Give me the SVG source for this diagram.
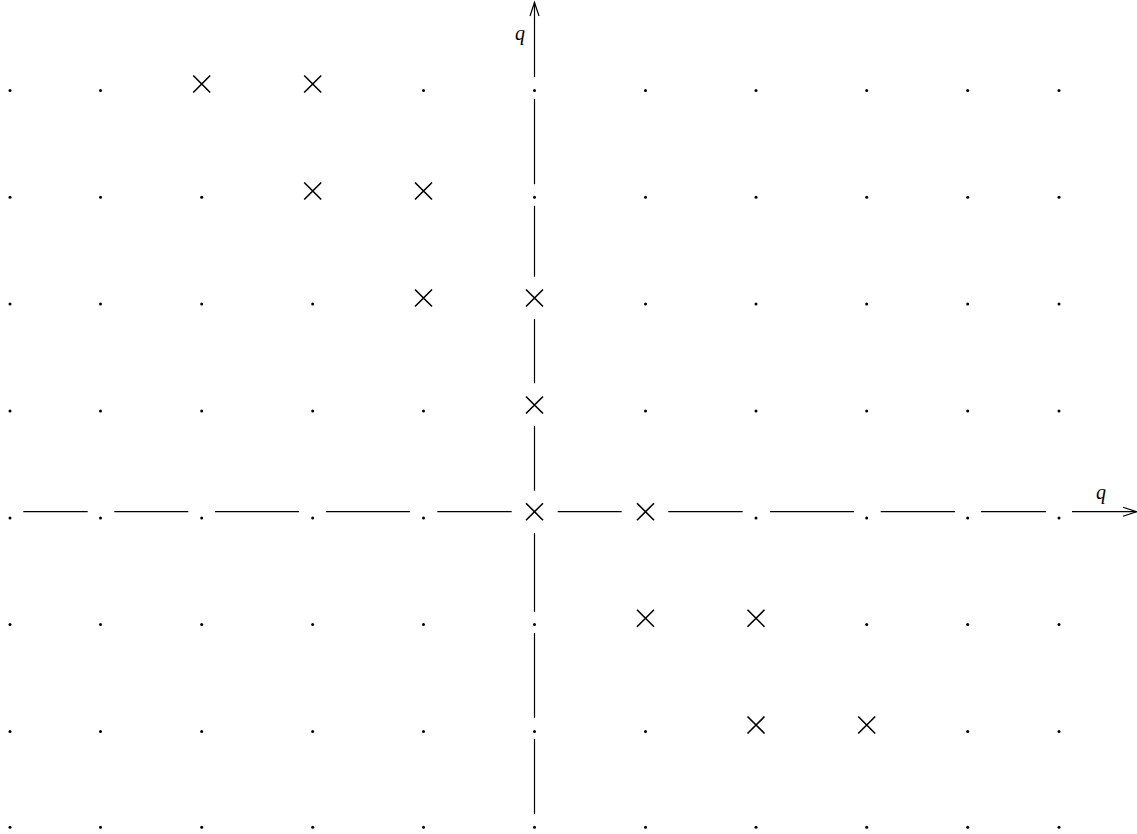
<svg xmlns="http://www.w3.org/2000/svg" width="1137" height="834" viewBox="0 0 1137 834">
<style>
.ax{stroke:#000;stroke-width:1.2;fill:none}
.x{stroke:#000;stroke-width:1.6;fill:none}
.d{fill:#000}
.lbl{font-family:"Liberation Serif",serif;font-style:italic;font-size:20px;fill:#000;text-anchor:middle}
</style>
<defs>
<path id="cr" class="x" d="M-8.5,-8.5L8.5,8.5M-8.5,8.5L8.5,-8.5"/>
<circle id="dt" class="d" r="1.5"/>
</defs>
<rect width="1137" height="834" fill="#fff"/>
<g id="connectors">
<path class="ax" d="M534.5,77V2M534.5,99V184.3M534.5,205.7V276.7M534.5,319V383.3M534.5,426V490.7M534.5,533V611.7M534.5,633V717.7M534.5,739V814"/>
<path class="ax" d="M530,16L534.5,2.5L539,16"/>
<path class="ax" d="M23.3,511.7H87.7M114.3,511.7H188.3M215,511.7H299M326,511.7H410M437.3,511.7H511.7M557.7,511.7H621.7M668.3,511.7H742.7M770,511.7H854M880.7,511.7H955M981,511.7H1046M1072,511.7H1136.5"/>
<path class="ax" d="M1123,507.2L1136.5,511.7L1123,516.2"/>
</g>
<g id="label-q-vertical"><text class="lbl" x="520" y="40">q</text></g>
<g id="label-q-horizontal"><text class="lbl" x="1101" y="499">q</text></g>
<g id="row1">
<use href="#dt" x="10" y="90.5"/><use href="#dt" x="100.5" y="90.5"/><use href="#cr" x="201.7" y="84"/><use href="#cr" x="312.7" y="84"/><use href="#dt" x="423.5" y="90.5"/><use href="#dt" x="534.5" y="90.5"/><use href="#dt" x="645.5" y="90.5"/><use href="#dt" x="756" y="90.5"/><use href="#dt" x="866.7" y="90.5"/><use href="#dt" x="967.7" y="90.5"/><use href="#dt" x="1059" y="90.5"/>
</g>
<g id="row2">
<use href="#dt" x="10" y="197.3"/><use href="#dt" x="100.5" y="197.3"/><use href="#dt" x="201.7" y="197.3"/><use href="#cr" x="312.7" y="191"/><use href="#cr" x="423.5" y="191"/><use href="#dt" x="534.5" y="197.3"/><use href="#dt" x="645.5" y="197.3"/><use href="#dt" x="756" y="197.3"/><use href="#dt" x="866.7" y="197.3"/><use href="#dt" x="967.7" y="197.3"/><use href="#dt" x="1059" y="197.3"/>
</g>
<g id="row3">
<use href="#dt" x="10" y="304"/><use href="#dt" x="100.5" y="304"/><use href="#dt" x="201.7" y="304"/><use href="#dt" x="312.7" y="304"/><use href="#cr" x="423.5" y="298"/><use href="#cr" x="534.5" y="298"/><use href="#dt" x="645.5" y="304"/><use href="#dt" x="756" y="304"/><use href="#dt" x="866.7" y="304"/><use href="#dt" x="967.7" y="304"/><use href="#dt" x="1059" y="304"/>
</g>
<g id="row4">
<use href="#dt" x="10" y="411"/><use href="#dt" x="100.5" y="411"/><use href="#dt" x="201.7" y="411"/><use href="#dt" x="312.7" y="411"/><use href="#dt" x="423.5" y="411"/><use href="#cr" x="534.5" y="405"/><use href="#dt" x="645.5" y="411"/><use href="#dt" x="756" y="411"/><use href="#dt" x="866.7" y="411"/><use href="#dt" x="967.7" y="411"/><use href="#dt" x="1059" y="411"/>
</g>
<g id="row5">
<use href="#dt" x="10" y="518"/><use href="#dt" x="100.5" y="518"/><use href="#dt" x="201.7" y="518"/><use href="#dt" x="312.7" y="518"/><use href="#dt" x="423.5" y="518"/><use href="#cr" x="534.5" y="511.7"/><use href="#cr" x="645.5" y="511.7"/><use href="#dt" x="756" y="518"/><use href="#dt" x="866.7" y="518"/><use href="#dt" x="967.7" y="518"/><use href="#dt" x="1059" y="518"/>
</g>
<g id="row6">
<use href="#dt" x="10" y="624.5"/><use href="#dt" x="100.5" y="624.5"/><use href="#dt" x="201.7" y="624.5"/><use href="#dt" x="312.7" y="624.5"/><use href="#dt" x="423.5" y="624.5"/><use href="#dt" x="534.5" y="624.5"/><use href="#cr" x="645.5" y="618.3"/><use href="#cr" x="756" y="618.3"/><use href="#dt" x="866.7" y="624.5"/><use href="#dt" x="967.7" y="624.5"/><use href="#dt" x="1059" y="624.5"/>
</g>
<g id="row7">
<use href="#dt" x="10" y="731.5"/><use href="#dt" x="100.5" y="731.5"/><use href="#dt" x="201.7" y="731.5"/><use href="#dt" x="312.7" y="731.5"/><use href="#dt" x="423.5" y="731.5"/><use href="#dt" x="534.5" y="731.5"/><use href="#dt" x="645.5" y="731.5"/><use href="#cr" x="756" y="725"/><use href="#cr" x="866.7" y="725"/><use href="#dt" x="967.7" y="731.5"/><use href="#dt" x="1059" y="731.5"/>
</g>
<g id="row8">
<use href="#dt" x="10" y="827.3"/><use href="#dt" x="100.5" y="827.3"/><use href="#dt" x="201.7" y="827.3"/><use href="#dt" x="312.7" y="827.3"/><use href="#dt" x="423.5" y="827.3"/><use href="#dt" x="534.5" y="827.3"/><use href="#dt" x="645.5" y="827.3"/><use href="#dt" x="756" y="827.3"/><use href="#dt" x="866.7" y="827.3"/><use href="#dt" x="967.7" y="827.3"/><use href="#dt" x="1059" y="827.3"/>
</g>
</svg>
